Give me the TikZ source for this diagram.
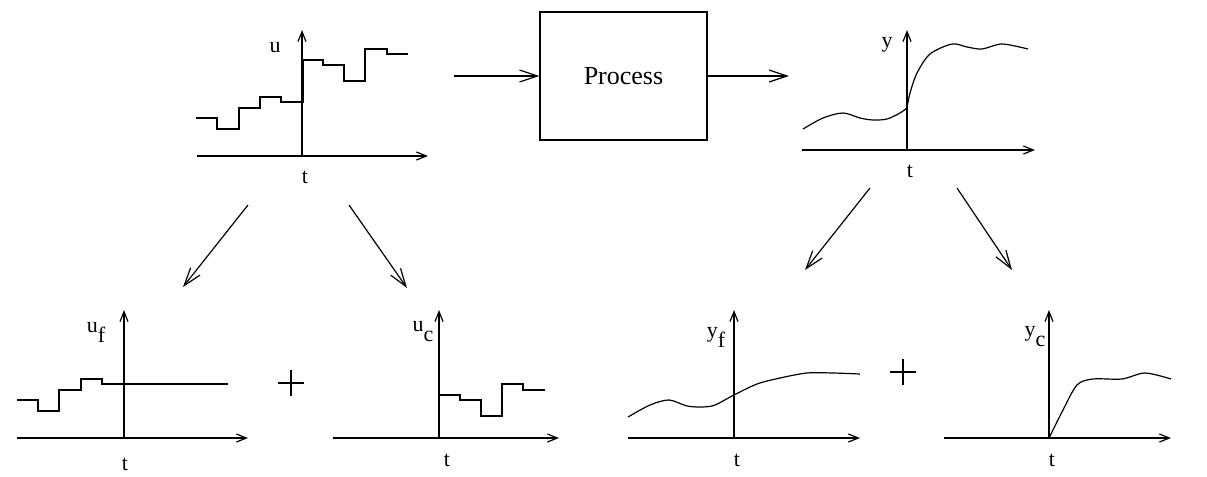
\documentclass[tikz,border=0pt]{standalone}
\usepackage{fontspec}
\setmainfont{Liberation Serif}
\usetikzlibrary{arrows.meta}

\tikzset{
	axis/.style={semithick,-{Straight Barb[length=5pt,width=4pt]}},
	signal/.style={semithick},
	flow/.style={semithick,-{Straight Barb[length=9pt,width=6pt]}},
	lbl/.style={font=\fontsize{11}{13}\selectfont},
}
\newcommand{\sublbl}[2]{#1\raisebox{-5pt}{#2}}

\begin{document}
\begin{tikzpicture}[x=0.5pt,y=-0.5pt,every node/.style={inner sep=0pt}]
	\useasboundingbox (0,0) rectangle (1207,477);
	
	% process block
	\node[draw, semithick, minimum width=83.5pt, minimum height=64pt, font=\fontsize{13}{16}\selectfont] (process) at (623.5,76) {Process};
	\coordinate (in) at (454,76);
	\coordinate (out) at (789,76);
	\draw[flow] (in) -- (process);
	\draw[flow] (process) -- (out);
	
	% input u
	\draw[axis] (197,156) -- (428,156);
	\draw[axis] (302,156) -- (302,30);
	\draw[signal] (196,118) -| (217,129) -| (239,108) -| (260,97) -| (281,102) -| (303,60)
		-| (323,65) -| (344,81) -| (365,49) -| (387,54) -- (408,54);
	\node[lbl] (u) at (275,48) {u};
	\node[lbl] (tu) at (305,177) {t};
	
	% output y
	\draw[axis] (802,150) -- (1035,150);
	\draw[axis] (907,150) -- (907,30);
	\draw[signal] plot[smooth] coordinates {(803,129) (823,118) (843,113) (860,118) (873,120) (887,119) (900,113) (907,108)};
	\draw[signal] plot[smooth] coordinates {(907,108) (910,93) (917,73) (930,54) (952,44) (967,47) (982,49) (1002,44) (1028,49)};
	\node[lbl] (y) at (887,45) {y};
	\node[lbl] (ty) at (910,171) {t};
	
	% splitting arrows
	\coordinate (ua) at (248,205);
	\coordinate (uf) at (183,287);
	\coordinate (ub) at (349,205);
	\coordinate (uc) at (407,288);
	\coordinate (ya) at (870,188);
	\coordinate (yf) at (805,270);
	\coordinate (yb) at (957,188);
	\coordinate (yc) at (1012,270);
	\draw[flow] (ua) -- (uf);
	\draw[flow] (ub) -- (uc);
	\draw[flow] (ya) -- (yf);
	\draw[flow] (yb) -- (yc);
	
	% u_f
	\draw[axis] (17,438) -- (248,438);
	\draw[axis] (124,438) -- (124,310);
	\draw[signal] (17,400) -| (38,411) -| (59,390) -| (81,379) -| (102,384) -- (228,384);
	\node[lbl] (uflbl) at (96,332) {\sublbl{u}{f}};
	\node[lbl] (tuf) at (125,464) {t};
	
	% plus
	\draw[semithick] (278,383) -- (304,383) (291,370) -- (291,396);
	
	% u_c
	\draw[axis] (333,438) -- (559,438);
	\draw[axis] (439,438) -- (439,310);
	\draw[signal] (439,395) -| (460,400) -| (481,416) -| (502,384) -| (523,390) -- (545,390);
	\node[lbl] (uclbl) at (423,332) {\sublbl{u}{c}};
	\node[lbl] (tuc) at (447,460) {t};
	
	% y_f
	\draw[axis] (628,438) -- (860,438);
	\draw[axis] (734,438) -- (734,310);
	\draw[signal] plot[smooth] coordinates {(628,417) (650,405) (669,400) (687,406) (703,407) (715,405) (734,395) (757,384) (780,378) (807,373) (833,373) (860,374)};
	\node[lbl] (yflbl) at (716,337) {\sublbl{y}{f}};
	\node[lbl] (tyf) at (737,460) {t};
	
	% plus
	\draw[semithick] (890,372) -- (916,372) (903,359) -- (903,385);
	
	% y_c
	\draw[axis] (944,438) -- (1171,438);
	\draw[axis] (1049,438) -- (1049,310);
	\draw[signal] (944,438) -- (1049,438);
	\draw[signal] plot[smooth] coordinates {(1049,438) (1063,410) (1077,385) (1093,379) (1122,379) (1145,373) (1171,379)};
	\node[lbl] (yclbl) at (1035,337) {\sublbl{y}{c}};
	\node[lbl] (tyc) at (1052,460) {t};
	
\end{tikzpicture}
\end{document}
